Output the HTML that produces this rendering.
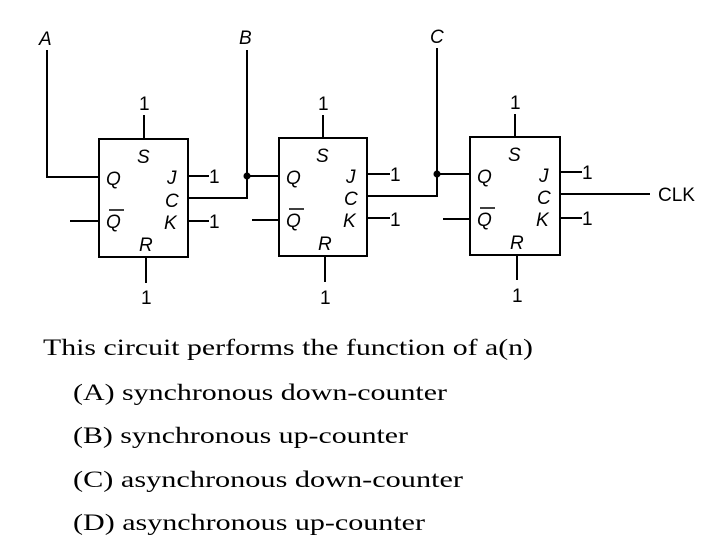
<!DOCTYPE html>
<html><head><meta charset="utf-8"><style>
html,body{margin:0;padding:0;background:#fff;width:715px;height:554px;overflow:hidden}
svg{display:block}
.l{font-family:"Liberation Sans",sans-serif;font-style:italic;font-size:19px;fill:#000}
.n{font-family:"Liberation Sans",sans-serif;font-size:19px;fill:#000}
.t{font-family:"Liberation Serif",serif;font-size:23px;fill:#000}
</style></head><body>
<svg width="715" height="554" viewBox="0 0 715 554" xmlns="http://www.w3.org/2000/svg">
<g stroke="#000" stroke-width="2" fill="none">
<rect x="99" y="139" width="89" height="118"/>
<line x1="144" y1="115" x2="144" y2="139"/><line x1="146" y1="257" x2="146" y2="283"/>
<polyline points="47,50 47,177 99,177"/>
<line x1="70" y1="221" x2="99" y2="221"/>
<line x1="188" y1="176" x2="209" y2="176"/>
<line x1="188" y1="221" x2="209" y2="221"/>
<polyline points="188,198 247,198 247,50"/>
<line x1="247" y1="176" x2="279" y2="176"/>
<rect x="279" y="138" width="88" height="118"/>
<line x1="323" y1="115" x2="323" y2="138"/><line x1="325" y1="256" x2="325" y2="282"/>
<line x1="252" y1="220" x2="279" y2="220"/>
<line x1="367" y1="174" x2="390" y2="174"/>
<line x1="367" y1="218" x2="390" y2="218"/>
<polyline points="367,196 437,196 437,48"/>
<line x1="437" y1="174" x2="470" y2="174"/>
<rect x="470" y="137" width="90" height="118"/>
<line x1="515" y1="114" x2="515" y2="137"/><line x1="517" y1="255" x2="517" y2="280"/>
<line x1="443" y1="219" x2="470" y2="219"/>
<line x1="560" y1="172" x2="582" y2="172"/>
<line x1="560" y1="218" x2="582" y2="218"/>
<line x1="560" y1="194" x2="650" y2="194"/>
</g>
<circle cx="247" cy="176" r="3.5"/><circle cx="437" cy="174" r="3.5"/>
<g stroke="#000" stroke-width="1.5">
<line x1="109" y1="210" x2="124" y2="210"/>
<line x1="289" y1="209" x2="304" y2="209"/>
<line x1="480" y1="208" x2="495" y2="208"/>
</g>
<text class="l" x="39" y="45">A</text>
<text class="l" x="239" y="44">B</text>
<text class="l" x="430" y="43">C</text>
<g class="l">
<text x="137" y="163">S</text><text x="106" y="185">Q</text><text x="106" y="228">Q</text>
<text x="167" y="184">J</text><text x="165" y="207">C</text><text x="164" y="229">K</text><text x="139" y="251">R</text>
<text x="316" y="162">S</text><text x="286" y="184">Q</text><text x="286" y="227">Q</text>
<text x="346" y="183">J</text><text x="344" y="205">C</text><text x="343" y="227">K</text><text x="318" y="250">R</text>
<text x="508" y="161">S</text><text x="477" y="183">Q</text><text x="477" y="226">Q</text>
<text x="539" y="182">J</text><text x="537" y="204">C</text><text x="536" y="226">K</text><text x="510" y="249">R</text>
</g>
<g class="n">
<text x="139" y="110">1</text><text x="141" y="304">1</text>
<text x="209" y="183">1</text><text x="209" y="228">1</text>
<text x="318" y="110">1</text><text x="320" y="304">1</text>
<text x="390" y="181">1</text><text x="390" y="226">1</text>
<text x="510" y="109">1</text><text x="512" y="302">1</text>
<text x="582" y="179">1</text><text x="582" y="225">1</text>
<text x="658" y="201">CLK</text>
</g>
<text class="t" x="43" y="355" textLength="490" lengthAdjust="spacingAndGlyphs">This circuit performs the function of a(n)</text>
<text class="t" x="73" y="400" textLength="374" lengthAdjust="spacingAndGlyphs">(A)  synchronous down-counter</text>
<text class="t" x="73" y="443" textLength="335" lengthAdjust="spacingAndGlyphs">(B)  synchronous up-counter</text>
<text class="t" x="73" y="487" textLength="390" lengthAdjust="spacingAndGlyphs">(C)  asynchronous down-counter</text>
<text class="t" x="73" y="530" textLength="352" lengthAdjust="spacingAndGlyphs">(D)  asynchronous up-counter</text>
</svg>
</body></html>
